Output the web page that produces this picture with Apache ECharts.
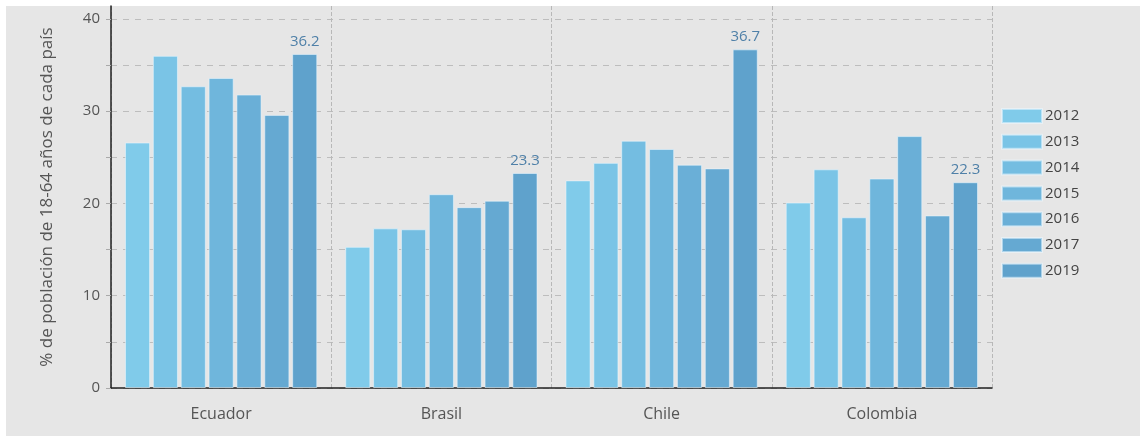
<!DOCTYPE html>
<html><head><meta charset="utf-8">
<script src="https://cdn.jsdelivr.net/npm/echarts@6/dist/echarts.min.js"></script>
<style>html,body{margin:0;padding:0;background:#fff}#c{width:1140px;height:442px}</style>
</head><body><div id="c"></div>
<script>
const categories = ['Ecuador', 'Brasil', 'Chile', 'Colombia'];
const years = ['2012', '2013', '2014', '2015', '2016', '2017', '2019'];
const v2012 = [26.6, 15.3, 22.5, 20.1];
const v2013 = [36.0, 17.3, 24.4, 23.7];
const v2014 = [32.7, 17.2, 26.8, 18.5];
const v2015 = [33.6, 21.0, 25.9, 22.7];
const v2016 = [31.8, 19.6, 24.2, 27.3];
const v2017 = [29.6, 20.3, 23.8, 18.7];
const v2019 = [36.2, 23.3, 36.7, 22.3];
const yTicks = [0, 10, 20, 30, 40];
const yTitle = '% de población de 18-64 años de cada país';

const values = [v2012, v2013, v2014, v2015, v2016, v2017, v2019];
const colors = ['#80cbea', '#7ac4e6', '#74bde1', '#6fb6dc', '#6aafd7', '#65a9d2', '#5fa2cc'];
const font = '"Open Sans", "Noto Sans", sans-serif';

const series = years.map((y, i) => ({
  name: y,
  type: 'bar',
  data: values[i],
  barGap: '11%',
  barCategoryGap: '12.7%',
  itemStyle: { color: colors[i], borderColor: 'rgba(235,248,255,0.55)', borderWidth: 1 },
  label: i === years.length - 1 ? {
    show: true, position: 'top', distance: 5,
    color: '#4f80a8', fontSize: 15, fontFamily: font
  } : { show: false }
}));

const chart = echarts.init(document.getElementById('c'));
chart.setOption({
  animation: false,
  backgroundColor: '#ffffff',
  graphic: [{
    type: 'rect', z: -10, silent: true,
    shape: { x: 6, y: 6, width: 1134, height: 430 },
    style: { fill: '#e6e6e6' }
  }],
  grid: { left: 111, right: 148, top: 6, bottom: 54 },
  legend: {
    orient: 'vertical', left: 1001, top: 108, padding: 0, icon: 'rect',
    itemWidth: 40, itemHeight: 14, itemGap: 9.8,
    textStyle: { color: '#444', fontSize: 15, fontFamily: font, padding: [0, 0, 0, -2] },
    data: years
  },
  xAxis: {
    type: 'category', data: categories,
    axisLine: { lineStyle: { color: '#222', width: 1.5 } },
    axisTick: { show: false },
    axisLabel: { color: '#555', fontSize: 16, fontFamily: font, margin: 18 },
    splitLine: { show: true, lineStyle: { color: '#b8b8b8', type: 'dashed', width: 1 } }
  },
  yAxis: {
    type: 'value', min: 0, max: 41.4, interval: 5,
    name: yTitle, nameLocation: 'middle', nameGap: 55,
    nameTextStyle: { color: '#555', fontSize: 17, fontFamily: font },
    axisLine: { show: true, lineStyle: { color: '#222', width: 1.5 } },
    axisTick: { show: true, length: 5, lineStyle: { color: '#aaa' } },
    axisLabel: {
      color: '#555', fontSize: 15, fontFamily: font, margin: 11, showMaxLabel: false,
      formatter: v => yTicks.indexOf(v) >= 0 ? String(v) : ''
    },
    splitLine: { show: true, showMaxLine: false, lineStyle: { color: '#bdbdbd', type: [6, 6], width: 1 } }
  },
  series: series
});
</script></body></html>
